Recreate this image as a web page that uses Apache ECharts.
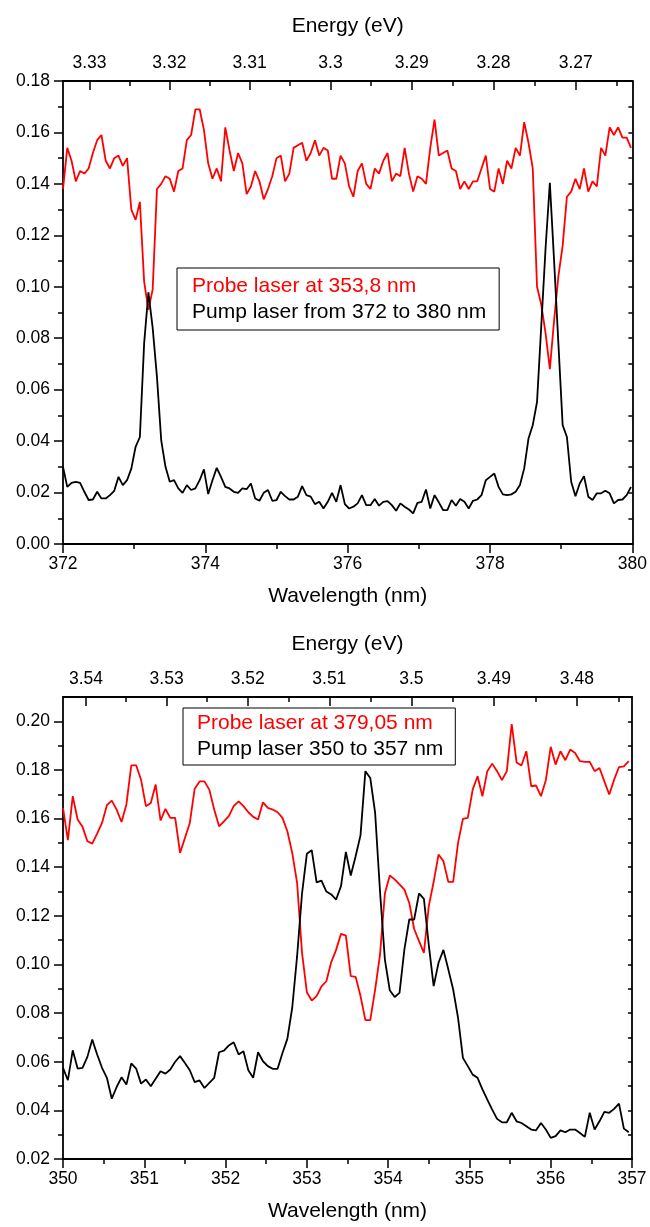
<!DOCTYPE html>
<html>
<head>
<meta charset="utf-8">
<script src="https://cdn.jsdelivr.net/npm/echarts@6/dist/echarts.min.js"></script>
<style>
  html, body { margin: 0; padding: 0; background: #fff; }
  #chart { width: 650px; height: 1227px; }
</style>
</head>
<body>
<div id="chart"></div>
<script>
// upper panel: probe fixed at 353,8 nm, pump scanned 372 -> 380 nm
const topStart = 372;
const topStep = 0.06;
const topProbe = [
  0.138, 0.154, 0.149, 0.141, 0.145, 0.144, 0.146, 0.152, 0.157, 0.159,
  0.149, 0.146, 0.150, 0.151, 0.147, 0.150, 0.130, 0.126, 0.133, 0.102,
  0.091, 0.099, 0.138, 0.140, 0.143, 0.142, 0.137, 0.145, 0.146, 0.157,
  0.159, 0.169, 0.169, 0.161, 0.148, 0.142, 0.146, 0.141, 0.162, 0.153,
  0.145, 0.152, 0.148, 0.136, 0.139, 0.145, 0.141, 0.134, 0.138, 0.143,
  0.150, 0.151, 0.141, 0.144, 0.154, 0.155, 0.156, 0.149, 0.152, 0.157,
  0.151, 0.154, 0.153,
  0.142, 0.142, 0.151, 0.148, 0.139, 0.135, 0.145, 0.148, 0.140, 0.138,
  0.146, 0.144, 0.149, 0.152, 0.141, 0.144, 0.143, 0.154, 0.144, 0.137,
  0.143, 0.142, 0.140, 0.154, 0.165, 0.151, 0.152, 0.153, 0.146, 0.145,
  0.138, 0.141, 0.138, 0.141, 0.141, 0.146, 0.151, 0.138, 0.137, 0.146,
  0.140, 0.149, 0.146, 0.154, 0.151, 0.164, 0.156, 0.146, 0.100, 0.093,
  0.082, 0.068, 0.087, 0.104, 0.116, 0.135, 0.137, 0.142, 0.138, 0.146,
  0.137, 0.141, 0.139, 0.154, 0.151, 0.162, 0.159, 0.162, 0.158, 0.158,
  0.154
];
const topPump = [
  0.030, 0.0222, 0.0238, 0.0242, 0.0238, 0.0203, 0.0171, 0.0173, 0.0203, 0.0177,
  0.0177, 0.019, 0.0207, 0.0261, 0.0229, 0.0248, 0.0293, 0.0378, 0.0416, 0.078,
  0.0978, 0.084, 0.065, 0.0403, 0.030, 0.0242, 0.0248, 0.0216, 0.0199, 0.0229,
  0.021, 0.0216, 0.0248, 0.029, 0.0194, 0.0248, 0.0296, 0.0261, 0.0222, 0.0216,
  0.0203, 0.0199, 0.0216, 0.0213, 0.0235, 0.0177, 0.0168, 0.0199, 0.021, 0.0168,
  0.0171, 0.0203, 0.0186, 0.0173, 0.0173, 0.0184, 0.0225, 0.019, 0.0184, 0.0155,
  0.0164, 0.0138, 0.0164,
  0.0199, 0.0164, 0.0229, 0.0155, 0.0138, 0.0145, 0.0158, 0.019, 0.0151, 0.0151,
  0.0175, 0.0149, 0.0164, 0.0167, 0.0151, 0.0129, 0.0158, 0.0145, 0.0134, 0.0119,
  0.016, 0.0164, 0.0212, 0.0138, 0.019, 0.0162, 0.0132, 0.0132, 0.0171, 0.0149,
  0.0175, 0.0164, 0.0138, 0.0168, 0.0173, 0.019, 0.0248, 0.0261, 0.0274, 0.0222,
  0.0193, 0.019, 0.0193, 0.0203, 0.0229, 0.0294, 0.041, 0.0462, 0.0552, 0.085,
  0.115, 0.1404, 0.11, 0.078, 0.0462, 0.0416, 0.0242, 0.0186, 0.0235, 0.0264,
  0.0184, 0.0171, 0.0197, 0.0197, 0.0207, 0.0197, 0.0158, 0.0171, 0.0173, 0.019,
  0.0222
];

// lower panel: probe fixed at 379,05 nm, pump scanned 350 -> 357 nm
const botStart = 350;
const botStep = 0.06;
const botProbe = [
  0.1644, 0.1511, 0.1692, 0.1596, 0.1566, 0.1507, 0.1497, 0.1538, 0.1582, 0.1655,
  0.1674, 0.1637, 0.1586, 0.1658, 0.1819, 0.1819, 0.176, 0.1651, 0.1664, 0.174,
  0.1592, 0.164, 0.1603, 0.1603, 0.1459, 0.152, 0.1582, 0.1723, 0.1753, 0.1753,
  0.1719, 0.1637, 0.1568, 0.1589, 0.161, 0.1651, 0.1671, 0.1651, 0.1626, 0.1607,
  0.1596, 0.1667, 0.1644, 0.1637, 0.1626, 0.1603, 0.1548, 0.1459, 0.1336, 0.105,
  0.0886, 0.0852, 0.087, 0.091, 0.0931, 0.101, 0.106, 0.1126, 0.1119, 0.0952,
  0.0949, 0.087, 0.0771, 0.0771, 0.0897, 0.104, 0.1292, 0.1366, 0.135, 0.1329,
  0.1308, 0.1253, 0.1146, 0.1096, 0.1048, 0.124, 0.134, 0.1452, 0.1425, 0.134,
  0.134, 0.15, 0.1599, 0.1603, 0.1719, 0.1774, 0.1692, 0.1795, 0.1826, 0.1795,
  0.1758, 0.1795, 0.1989, 0.1831, 0.1818, 0.1877, 0.1733, 0.1736, 0.1692, 0.1758,
  0.1895, 0.1822, 0.1877, 0.184, 0.1884, 0.187, 0.1836, 0.1833, 0.1833, 0.1795,
  0.1808, 0.1753, 0.1699, 0.176, 0.1812, 0.1815, 0.1836
];
const botPump = [
  0.0575, 0.0524, 0.0647, 0.0572, 0.0575, 0.062, 0.0691, 0.063, 0.0575, 0.0534,
  0.0448, 0.0496, 0.0536, 0.0506, 0.0593, 0.0572, 0.051, 0.0527, 0.0499, 0.053,
  0.0561, 0.0551, 0.0568, 0.06, 0.0623, 0.0595, 0.0565, 0.0516, 0.0523, 0.0492,
  0.0513, 0.0534, 0.0639, 0.0646, 0.0667, 0.068, 0.063, 0.0643, 0.0565, 0.0534,
  0.0639, 0.0602, 0.0582, 0.0571, 0.0571, 0.0636, 0.0694, 0.0822, 0.1034, 0.129,
  0.1455, 0.147, 0.1338, 0.1345, 0.130, 0.1288, 0.1267, 0.1322, 0.1463, 0.1366,
  0.1445, 0.1531, 0.1795, 0.1767, 0.1623, 0.13, 0.102, 0.0894, 0.0866, 0.0883,
  0.1062, 0.1185, 0.1185, 0.1292, 0.127, 0.108, 0.0911, 0.1007, 0.106, 0.098,
  0.0897, 0.078, 0.0616, 0.0582, 0.0547, 0.0534, 0.0486, 0.0444, 0.0403, 0.0365,
  0.0351, 0.0351, 0.039, 0.0355, 0.0348, 0.0335, 0.0321, 0.0318, 0.0348, 0.0321,
  0.0287, 0.0294, 0.0318, 0.031, 0.0321, 0.0321, 0.0307, 0.0291, 0.039, 0.0321,
  0.0355, 0.0394, 0.039, 0.0406, 0.0428, 0.0325, 0.031
];

// energy scale on top (E = 1240 / lambda)
const topEnergyTicks = [3.33, 3.32, 3.31, 3.3, 3.29, 3.28, 3.27];
const topEnergyMinor = [3.325, 3.315, 3.305, 3.295, 3.285, 3.275, 3.265];
const botEnergyTicks = [3.54, 3.53, 3.52, 3.51, 3.5, 3.49, 3.48];
const botEnergyMinor = [3.535, 3.525, 3.515, 3.505, 3.495, 3.485, 3.475];
const botYTicks = [0.02, 0.04, 0.06, 0.08, 0.10, 0.12, 0.14, 0.16, 0.18, 0.20];
const botYMinor = [0.03, 0.05, 0.07, 0.09, 0.11, 0.13, 0.15, 0.17, 0.19];

const HC = 1240;
const FONT = 'Liberation Sans';
const RED = '#ff0000';
const toNm = e => HC / e;
const toPairs = (start, step, vals) => vals.map((v, i) => [+(start + i * step).toFixed(3), v]);

const line = { lineStyle: { color: '#000', width: 1.8 } };
const tickStyle = { color: '#000', width: 1.5 };
const labelStyle = { fontSize: 17.5, fontFamily: FONT, color: '#000' };
const nameStyle = { fontSize: 21, fontFamily: FONT, color: '#000' };

// wavelength axis at the bottom of a panel
function waveAxis(grid, min, max, interval) {
  return {
    gridIndex: grid, type: 'value', position: 'bottom', min, max, interval,
    name: 'Wavelength (nm)', nameLocation: 'middle', nameGap: 42, nameTextStyle: nameStyle,
    axisLine: { show: true, onZero: false, ...line },
    axisTick: { length: 9, lineStyle: tickStyle },
    minorTick: { show: true, splitNumber: 2, length: 5, lineStyle: tickStyle },
    axisLabel: { ...labelStyle, margin: 11 },
    splitLine: { show: false }
  };
}

// energy axis on top, placed at lambda = 1240 / E
function energyAxis(grid, min, max, ticks, gap) {
  const vals = ticks.map(toNm);
  return {
    gridIndex: grid, type: 'value', position: 'top', min, max,
    name: 'Energy (eV)', nameLocation: 'middle', nameGap: gap, nameTextStyle: nameStyle,
    axisLine: { show: true, onZero: false, ...line },
    axisTick: { inside: true, length: 9, lineStyle: tickStyle, customValues: vals },
    axisLabel: { ...labelStyle, margin: 9, customValues: vals,
      formatter: v => String(+(HC / v).toFixed(2)) },
    splitLine: { show: false }
  };
}

function energyMinorAxis(grid, min, max, ticks) {
  return {
    gridIndex: grid, type: 'value', position: 'top', min, max,
    axisLine: { show: false, onZero: false },
    axisTick: { inside: true, length: 5, lineStyle: tickStyle, customValues: ticks.map(toNm) },
    axisLabel: { show: false },
    splitLine: { show: false }
  };
}

function rightAxis(grid, min, max) {
  return {
    gridIndex: grid, type: 'value', position: 'right', min, max, interval: 0.01,
    axisLine: { show: true, onZero: false, ...line },
    axisTick: { inside: true, length: 4, lineStyle: tickStyle },
    axisLabel: { show: false },
    splitLine: { show: false }
  };
}

function legendBox(left, top, padding, items) {
  return {
    left, top, orient: 'vertical', selectedMode: false,
    icon: 'none', itemWidth: 0, itemHeight: 10, itemGap: 0,
    padding, borderColor: '#000', borderWidth: 1, borderRadius: 0,
    textStyle: { fontSize: 21, fontFamily: FONT, lineHeight: 26 },
    data: items.map(([name, color]) => ({ name, textStyle: { color } }))
  };
}

function trace(name, color, x, y, pairs) {
  return {
    type: 'line', name, xAxisIndex: x, yAxisIndex: y, data: pairs,
    showSymbol: false, symbol: 'none', animation: false,
    lineStyle: { color, width: 1.8 }, itemStyle: { color }
  };
}

const chart = echarts.init(document.getElementById('chart'), null, { renderer: 'canvas' });

chart.setOption({
  backgroundColor: '#fff',
  animation: false,
  grid: [
    { left: 63, right: 17, top: 81, height: 463 },
    { left: 63, right: 18, top: 697, height: 462 }
  ],
  xAxis: [
    waveAxis(0, 372, 380, 2),
    energyAxis(0, 372, 380, topEnergyTicks, 44),
    energyMinorAxis(0, 372, 380, topEnergyMinor),
    waveAxis(1, 350, 357, 1),
    energyAxis(1, 350, 357, botEnergyTicks, 42),
    energyMinorAxis(1, 350, 357, botEnergyMinor)
  ],
  yAxis: [
    {
      gridIndex: 0, type: 'value', position: 'left', min: 0, max: 0.18, interval: 0.02,
      axisLine: { show: true, onZero: false, ...line },
      axisTick: { length: 9, lineStyle: tickStyle },
      minorTick: { show: true, splitNumber: 2, length: 5, lineStyle: tickStyle },
      axisLabel: { ...labelStyle, margin: 13, formatter: v => v.toFixed(2) },
      splitLine: { show: false }
    },
    rightAxis(0, 0, 0.18),
    {
      gridIndex: 1, type: 'value', position: 'left', min: 0.02, max: 0.21,
      axisLine: { show: true, onZero: false, ...line },
      axisTick: { length: 9, lineStyle: tickStyle, customValues: botYTicks },
      axisLabel: { ...labelStyle, margin: 13, customValues: botYTicks, formatter: v => v.toFixed(2) },
      splitLine: { show: false }
    },
    {
      gridIndex: 1, type: 'value', position: 'left', min: 0.02, max: 0.21,
      axisLine: { show: false, onZero: false },
      axisTick: { length: 5, lineStyle: tickStyle, customValues: botYMinor },
      axisLabel: { show: false },
      splitLine: { show: false }
    },
    rightAxis(1, 0.02, 0.21)
  ],
  legend: [
    legendBox(177, 268, [5, 13, 5, 10], [
      ['Probe laser at 353,8 nm', RED],
      ['Pump laser from 372 to 380 nm', '#000']
    ]),
    legendBox(183, 708, [2, 12, 3, 9], [
      ['Probe laser at 379,05 nm', RED],
      ['Pump laser 350 to 357 nm', '#000']
    ])
  ],
  series: [
    trace('Probe laser at 353,8 nm', RED, 0, 0, toPairs(topStart, topStep, topProbe)),
    trace('Pump laser from 372 to 380 nm', '#000', 0, 0, toPairs(topStart, topStep, topPump)),
    trace('Probe laser at 379,05 nm', RED, 3, 2, toPairs(botStart, botStep, botProbe)),
    trace('Pump laser 350 to 357 nm', '#000', 3, 2, toPairs(botStart, botStep, botPump))
  ]
});

window.addEventListener('resize', () => chart.resize());
</script>
</body>
</html>
